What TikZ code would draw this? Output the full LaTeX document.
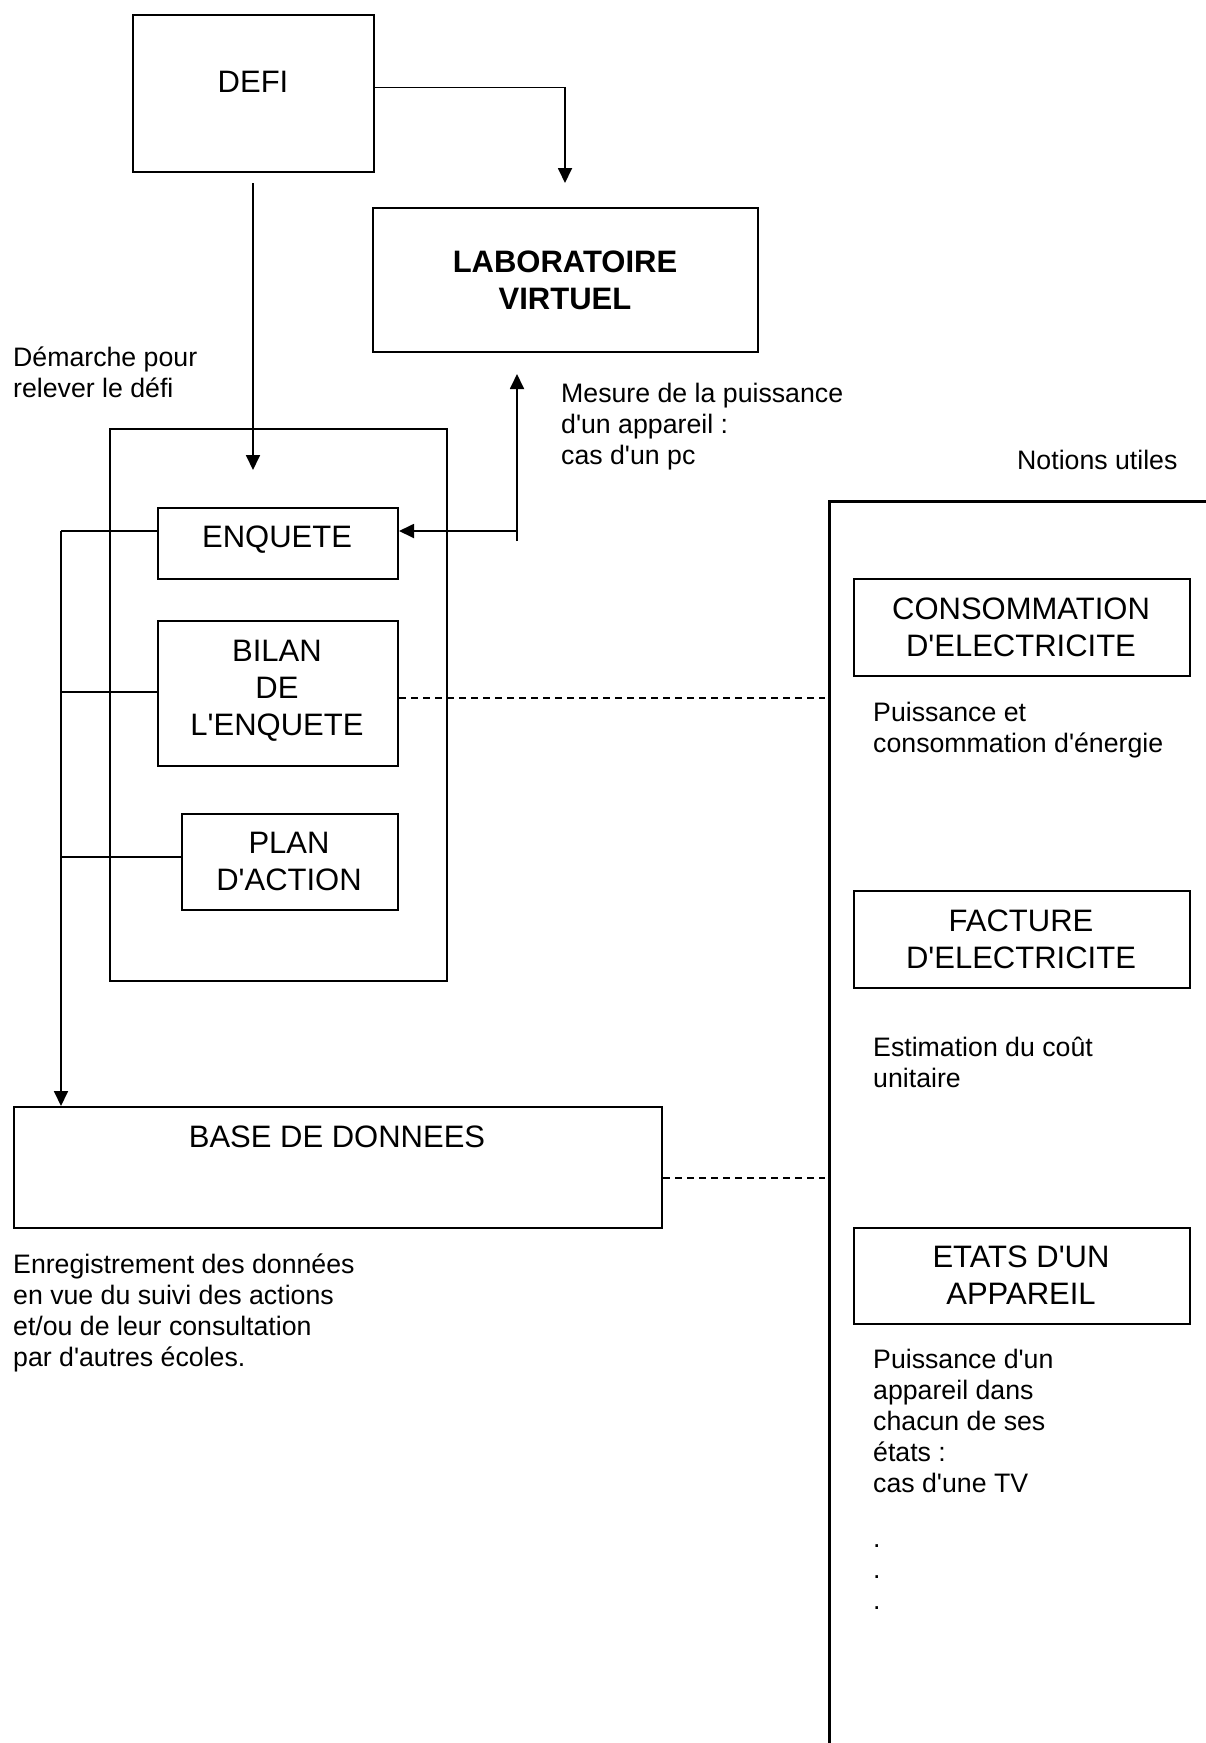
\documentclass[tikz,border=0pt]{standalone}
\usepackage{fontspec}
\setmainfont{Liberation Sans}[Ligatures=TeXOff]
\usetikzlibrary{arrows.meta}
\begin{document}
\begin{tikzpicture}[x=1pt,y=-1pt,
  boxs/.style={draw, line width=2pt, inner sep=0pt, anchor=north west},
  conn/.style={line width=1.8pt},
  arr/.style={conn, -{Triangle[length=15pt,width=14pt]}},
  dline/.style={line width=1.6pt, dash pattern=on 7pt off 5pt},
  bt/.style={font=\fontsize{31}{37}\selectfont, inner sep=0pt, align=center, anchor=base},
  st/.style={font=\fontsize{26.7}{30.8}\selectfont, inner sep=0pt, align=left, anchor=base west},
  panel/.style={line width=3pt}
]
\useasboundingbox (0,0) rectangle (1205,1743);

% boxes
\node[boxs, minimum width=241pt, minimum height=157pt] (defi) at (132,14) {};
\node[boxs, minimum width=385pt, minimum height=144pt] (lab) at (372,207) {};
\node[boxs, minimum width=337pt, minimum height=552pt] (outer) at (109,428) {};
\node[boxs, minimum width=240pt, minimum height=71pt] (enq) at (157,507) {};
\node[boxs, minimum width=240pt, minimum height=145pt] (bil) at (157,620) {};
\node[boxs, minimum width=216pt, minimum height=96pt] (plan) at (181,813) {};
\node[boxs, minimum width=648pt, minimum height=121pt] (base) at (13,1106) {};
\node[boxs, minimum width=336pt, minimum height=97pt] (conso) at (853,578) {};
\node[boxs, minimum width=336pt, minimum height=97pt] (fact) at (853,890) {};
\node[boxs, minimum width=336pt, minimum height=96pt] (etats) at (853,1227) {};

% box texts (anchor = baseline of last line)
\node[bt] (tdefi) at (253,92) {DEFI};
\node[bt, font=\fontsize{31}{37}\selectfont\bfseries] (tlab) at (565,309) {LABORATOIRE\\VIRTUEL};
\node[bt] (tenq) at (277,547) {ENQUETE};
\node[bt] (tbil) at (277,735) {BILAN\\DE\\L'ENQUETE};
\node[bt] (tplan) at (289,890) {PLAN\\D'ACTION};
\node[bt] (tbase) at (337,1147) {BASE DE DONNEES};
\node[bt] (tconso) at (1021,656) {CONSOMMATION\\D'ELECTRICITE};
\node[bt] (tfact) at (1021,968) {FACTURE\\D'ELECTRICITE};
\node[bt] (tetats) at (1021,1304) {ETATS D'UN\\APPAREIL};

% free texts (anchor = baseline of last line)
\node[st] (demarche) at (13,397) {Démarche pour\\relever le défi};
\node[st] (mesure) at (561,464) {Mesure de la puissance\\d'un appareil :\\cas d'un pc};
\node[st] (notions) at (1017,469) {Notions utiles};
\node[st] (puiss) at (873,752) {Puissance et\\consommation d'énergie};
\node[st] (estim) at (873,1087) {Estimation du coût\\unitaire};
\node[st] (puiss2) at (873,1492) {Puissance d'un\\appareil dans\\chacun de ses\\états :\\cas d'une TV};
\node[st] (dots) at (873,1609) {.\\.\\.};
\node[st] (enreg) at (13,1366) {Enregistrement des données\\en vue du suivi des actions\\et/ou de leur consultation\\par d'autres écoles.};

% connectors
\coordinate (a1) at (565,183);
\draw[arr] ([yshift=6pt]defi.east) -| (a1);
\coordinate (d1) at (253,183);
\coordinate (d2) at (253,470);
\draw[arr] (d1) -- (d2);
\coordinate (e1) at (517,531);
\draw[arr] (e1) -- (enq.east |- e1);
\coordinate (u0) at (517,541);
\coordinate (u1) at (517,374);
\draw[arr] (u0) -- (u1);
\coordinate (bus) at (61,531);
\coordinate (b2) at (61,692);
\coordinate (b3) at (61,857);
\draw[conn] (enq.west |- bus) -- (bus);
\draw[arr] (bus) -- (bus |- base.north);
\draw[conn] (b2) -- (bil.west |- b2);
\draw[conn] (b3) -- (plan.west |- b3);
\coordinate (r1) at (825,698);
\draw[dline] (bil.east |- r1) -- (r1);
\coordinate (r2) at (825,1178);
\draw[dline] (base.east |- r2) -- (r2);

% notions panel
\coordinate (p1) at (1207,501);
\coordinate (p2) at (829,501);
\coordinate (p3) at (829,1745);
\draw[panel] (p1) -- (p2) -- (p3);
\end{tikzpicture}
\end{document}
